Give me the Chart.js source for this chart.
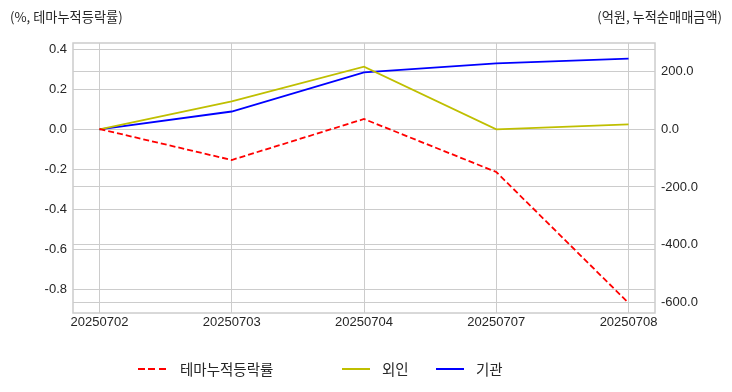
<!DOCTYPE html>
<html>
<head>
<meta charset="utf-8">
<script src="https://cdn.jsdelivr.net/npm/chart.js@4"></script>
<style>
  body { margin: 0; background: #fff; }
  #wrap { position: relative; width: 732px; height: 392px; }
  .note { position: absolute; top: 7px; font: 13.2px "Noto Sans CJK KR", sans-serif; color: #262626; }
  #legend { position: absolute; top: 358px; left: 0; width: 732px; height: 22px; font: 14.5px "Noto Sans CJK KR", sans-serif; color: #262626; }
  .item { position: absolute; top: 0; height: 22px; line-height: 22px; }
  .sw { position: absolute; top: 10px; width: 28px; height: 2px; }
</style>
</head>
<body>
<div id="wrap">
  <canvas id="lineChart" width="732" height="392"></canvas>
  <div class="note" style="left:10px">(%, 테마누적등락률)</div>
  <div class="note" style="right:10px">(억원, 누적순매매금액)</div>
  <div id="legend">
    <div class="sw" style="left:138px;background:repeating-linear-gradient(90deg,#ff0000 0 7px,transparent 7px 10.5px)"></div>
    <div class="item" style="left:180px">테마누적등락률</div>
    <div class="sw" style="left:342px;background:#bfbf00"></div>
    <div class="item" style="left:382px">외인</div>
    <div class="sw" style="left:436px;background:#0000ff"></div>
    <div class="item" style="left:476px">기관</div>
  </div>
</div>
<script>
const dates = ['20250702', '20250703', '20250704', '20250707', '20250708'];
const themeRate = [0.0, -0.155, 0.05, -0.215, -0.87];   // %
const foreign = [0, 97, 218, 0, 17];                   // 억원
const institution = [0, 62, 198, 229, 246];            // 억원
const leftTicks = [0.4, 0.2, 0.0, -0.2, -0.4, -0.6, -0.8];
const rightTicks = [200, 0, -200, -400, -600];

const pts = arr => arr.map((v, i) => ({ x: i, y: v }));

// plot frame on all four sides
const frame = {
  id: 'frame',
  afterDraw(chart) {
    const a = chart.chartArea, c = chart.ctx;
    c.save();
    c.strokeStyle = '#cccccc';
    c.lineWidth = 1.5;
    c.strokeRect(a.left, a.top, a.right - a.left, a.bottom - a.top);
    c.restore();
  }
};

const tickFont = { family: 'Liberation Sans, Arial, sans-serif', size: 13 };

const config = {
  type: 'line',
  data: {
    datasets: [
      { label: '테마누적등락률', data: pts(themeRate), yAxisID: 'y', borderColor: '#ff0000', borderDash: [6, 3], borderWidth: 1.8 },
      { label: '외인', data: pts(foreign), yAxisID: 'y2', borderColor: '#bfbf00', borderWidth: 1.8 },
      { label: '기관', data: pts(institution), yAxisID: 'y2', borderColor: '#0000ff', borderWidth: 1.8 }
    ]
  },
  options: {
    responsive: false,
    animation: false,
    layout: { padding: { top: 43, left: 0, right: 0, bottom: 0 } },
    elements: { point: { radius: 0 }, line: { tension: 0 } },
    plugins: { legend: { display: false }, tooltip: { enabled: false } },
    scales: {
      x: {
        type: 'linear', min: -0.2, max: 4.2,
        afterBuildTicks: s => { s.ticks = dates.map((d, i) => ({ value: i })); },
        afterFit: s => { s.height = 79; },
        ticks: { callback: v => dates[v], color: '#262626', font: tickFont, padding: 2, maxRotation: 0 },
        grid: { color: '#cccccc', drawTicks: false },
        border: { display: false }
      },
      y: {
        position: 'left', min: -0.92, max: 0.43,
        afterBuildTicks: s => { s.ticks = leftTicks.map(v => ({ value: v })); },
        afterFit: s => { s.width = 73; },
        ticks: { callback: v => v.toFixed(1), color: '#262626', font: tickFont, padding: 6 },
        grid: { color: '#cccccc', drawTicks: false },
        border: { display: false }
      },
      y2: {
        position: 'right', min: -638, max: 300,
        afterBuildTicks: s => { s.ticks = rightTicks.map(v => ({ value: v })); },
        afterFit: s => { s.width = 77; },
        ticks: { callback: v => v.toFixed(1), color: '#262626', font: tickFont, padding: 6 },
        grid: { color: '#cccccc', drawTicks: false },
        border: { display: false }
      }
    }
  },
  plugins: [frame]
};

const lineChart = new Chart(document.getElementById('lineChart'), config);
</script>
</body>
</html>
